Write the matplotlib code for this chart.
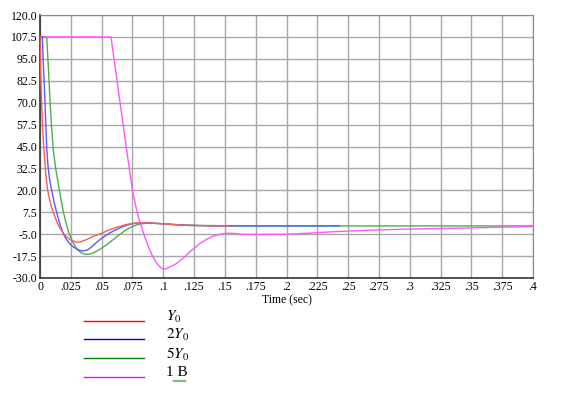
import numpy as np
import matplotlib
matplotlib.use("Agg")
import matplotlib.pyplot as plt
from matplotlib.ticker import FixedLocator, FuncFormatter

plt.rcParams['font.family'] = ['Liberation Serif', 'DejaVu Serif']
plt.rcParams['mathtext.fontset'] = 'stix'

# values (time in sec, response)
red_t = [0, 0.0005, 0.0012, 0.002, 0.0032, 0.0046, 0.0062, 0.0085, 0.0108, 0.014,
         0.0165, 0.0195, 0.022, 0.025, 0.0297, 0.033, 0.038, 0.043, 0.050, 0.055,
         0.060, 0.065, 0.070, 0.075, 0.082, 0.088, 0.095, 0.100, 0.110, 0.120,
         0.135, 0.154]
red_v = [107.5, 90, 71.5, 57, 43, 30, 20, 12.5, 7.5, 1.5,
         -2.0, -5.0, -6.8, -8.4, -9.6, -9.4, -8.0, -6.3, -4.5, -2.9,
         -1.6, -0.5, 0.5, 1.2, 1.45, 1.4, 1.15, 0.9, 0.4, 0.0,
         -0.2, -0.3]

blue_t = [0, 0.0019, 0.0028, 0.004, 0.0055, 0.0066, 0.0078, 0.0095, 0.0115, 0.0135,
          0.016, 0.019, 0.0215, 0.024, 0.0265, 0.029, 0.0315, 0.034, 0.036, 0.038,
          0.040, 0.042, 0.046, 0.050, 0.055, 0.060, 0.065, 0.070, 0.075, 0.082,
          0.088, 0.095, 0.100, 0.110, 0.120, 0.140, 0.243]
blue_v = [107.5, 107.5, 90, 71.5, 43, 33, 26, 20, 13, 7.5,
          1.0, -5.0, -8.0, -10.4, -12.0, -13.2, -14.0, -14.5, -14.5, -14.1,
          -13.3, -12.2, -9.6, -7.4, -5.0, -3.0, -1.4, 0.0, 1.0, 1.4,
          1.4, 1.15, 0.9, 0.4, 0.0, -0.3, -0.3]

green_t = [0, 0.0054, 0.0068, 0.0081, 0.0095, 0.0108, 0.0127, 0.0157, 0.019, 0.0215,
           0.0238, 0.027, 0.029, 0.031, 0.033, 0.035, 0.0365, 0.038, 0.0395, 0.041,
           0.043, 0.045, 0.0475, 0.050, 0.055, 0.060, 0.065, 0.070, 0.075, 0.080,
           0.086, 0.092, 0.100, 0.115, 0.130, 0.160, 0.250, 0.400]
green_v = [107.5, 107.5, 90, 71.5, 55, 43, 32.5, 20, 7.5, 0.5,
           -5.0, -10.0, -12.4, -14.2, -15.4, -16.1, -16.4, -16.5, -16.4, -16.2,
           -15.7, -15.0, -14.1, -13.0, -10.5, -7.8, -5.0, -2.5, -0.6, 0.6,
           1.2, 1.15, 0.9, 0.3, 0.0, -0.3, -0.3, -0.3]

mag_t = [0, 0.0576, 0.0703, 0.075, 0.078, 0.081, 0.0845, 0.0879, 0.091, 0.0947,
         0.0975, 0.100, 0.1025, 0.105, 0.108, 0.111, 0.1165, 0.1217, 0.126, 0.130,
         0.135, 0.1406, 0.146, 0.1515, 0.158, 0.165, 0.180, 0.200, 0.220, 0.238,
         0.265, 0.292, 0.320, 0.346, 0.375, 0.400]
mag_v = [107.5, 107.5, 43, 20, 10, 2, -5.5, -12, -17, -21.6,
         -23.8, -24.9, -24.8, -23.8, -22.8, -21.6, -18.5, -15, -12.5, -10.2,
         -8, -6.1, -5.0, -4.5, -4.6, -5.1, -5.1, -5.0, -4.4, -3.6,
         -2.8, -2.2, -1.8, -1.5, -1.0, -0.7]

y_ticks = [120.0, 107.5, 95.0, 82.5, 70.0, 57.5, 45.0, 32.5, 20.0, 7.5, -5.0, -17.5, -30.0]
x_ticks = [0, .025, .05, .075, .1, .125, .15, .175, .2, .225, .25, .275, .3, .325, .35, .375, .4]

legend_labels = [r'$Y_0$', r'$2Y_0$', r'$5Y_0$', '1 B']
legend_colors = ['#ff0000', '#0000ff', '#008000', '#ff00ff']


def fmt_x(v, pos):
    if v == 0:
        return '0'
    s = ('%.3f' % v).rstrip('0')
    return s[1:] if s.startswith('0') else s


fig = plt.figure(figsize=(5.79, 3.93), dpi=100)
ax = fig.add_axes([40 / 579, 1 - 278 / 393, 493 / 579, 263 / 393])

ax.plot(green_t, green_v, color='#4caf4c', lw=1.0, zorder=3)
ax.plot(mag_t, mag_v, color='#ff55ff', lw=1.0, zorder=3)
ax.plot(blue_t, blue_v, color='#5a5aff', lw=1.0, zorder=4)
ax.plot(red_t, red_v, color='#ff5a5a', lw=1.0, zorder=5)

ax.set_xlim(0, 0.4)
ax.set_ylim(-30, 120)
ax.yaxis.set_major_locator(FixedLocator(y_ticks))
ax.yaxis.set_major_formatter(FuncFormatter(lambda v, p: '%.1f' % v))
ax.xaxis.set_major_locator(FixedLocator(x_ticks))
ax.xaxis.set_major_formatter(FuncFormatter(fmt_x))
ax.tick_params(axis='both', length=0, labelsize=8.5, pad=2)
ax.grid(True, color='#a8a8a8', lw=1.0, zorder=1)
ax.set_axisbelow(True)
for side in ['top', 'right']:
    ax.spines[side].set_color('#888888')
for side in ['left', 'bottom']:
    ax.spines[side].set_color('#333333')
    ax.spines[side].set_linewidth(1.2)
ax.set_xlabel('Time (sec)', fontsize=8.5, labelpad=1)

# legend drawn below the chart in figure coordinates
line_y = [321, 339.3, 358.3, 376.7]
for lab, col, yy in zip(legend_labels, legend_colors, line_y):
    fy = 1 - yy / 393
    fig.add_artist(plt.Line2D([84 / 579, 144 / 579], [fy, fy], color=col, lw=1.0))
    fig.text(166 / 579, 1 - (yy - 4) / 393, lab, fontsize=11, va='center', ha='left')

# spell-check squiggle under "1 B"
wx = np.linspace(173, 186, 14)
wy = 381 + 0.8 * ((np.arange(14) % 2) * 2 - 1)
fig.add_artist(plt.Line2D(wx / 579, 1 - wy / 393, color='#40a040', lw=0.6))

fig.savefig('out.png', dpi=100)
